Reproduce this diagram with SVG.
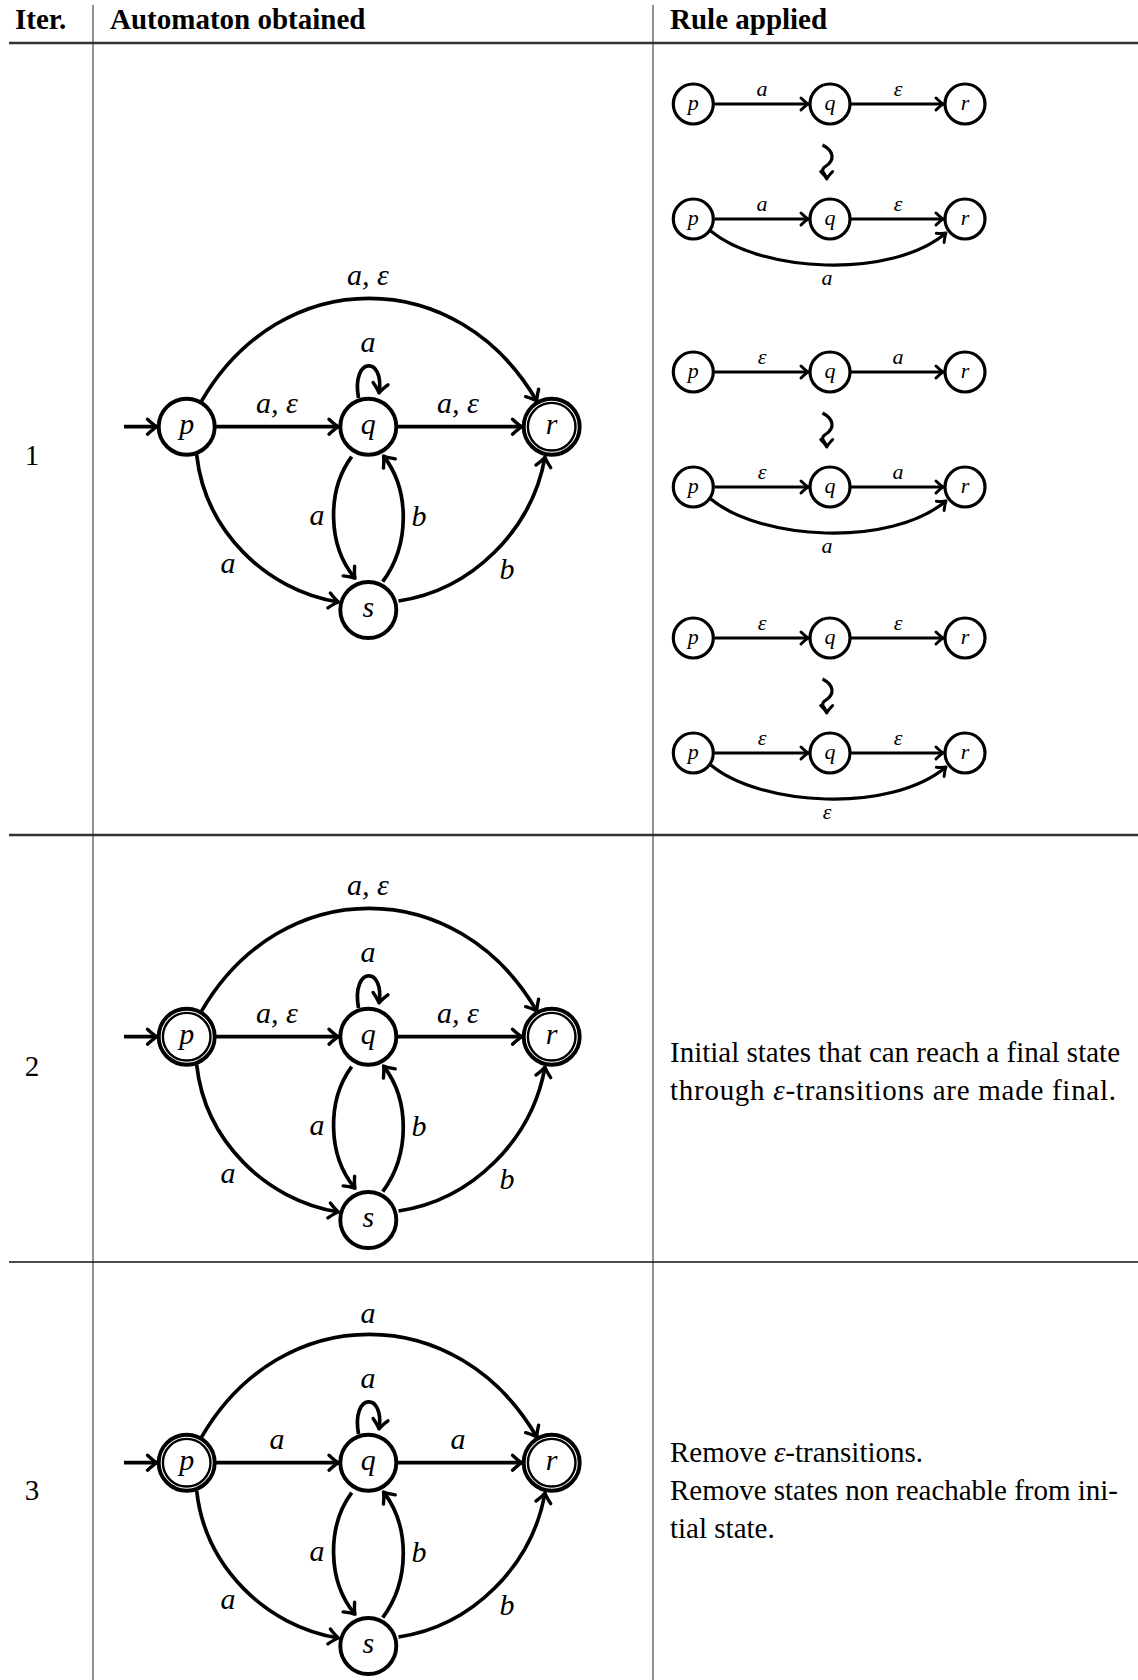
<svg xmlns="http://www.w3.org/2000/svg" width="1138" height="1680" viewBox="0 0 1138 1680">
<defs>
<marker id="arr" markerUnits="userSpaceOnUse" viewBox="-14 -11 18 22" markerWidth="18" markerHeight="22" refX="0" refY="0" orient="auto" overflow="visible">
<path d="M -9.5 -7.5 Q -3.5 -1.8 0 0 Q -3.5 1.8 -9.5 7.5" fill="none" stroke="#000" stroke-width="3.4" stroke-linecap="round" stroke-linejoin="round"/>
</marker>
<marker id="arrs" markerUnits="userSpaceOnUse" viewBox="-12 -10 16 20" markerWidth="16" markerHeight="20" refX="0" refY="0" orient="auto" overflow="visible">
<path d="M -7.5 -6 Q -2.7 -1.4 0 0 Q -2.7 1.4 -7.5 6" fill="none" stroke="#000" stroke-width="3" stroke-linecap="round" stroke-linejoin="round"/>
</marker>
</defs>
<style>
.st{fill:#fff;stroke:#000;stroke-width:3.9}
.in{fill:none;stroke:#000;stroke-width:2.4}
.sm{fill:#fff;stroke:#000;stroke-width:3.2}
.e{fill:none;stroke:#000;stroke-width:3.7;marker-end:url(#arr)}
.es{fill:none;stroke:#000;stroke-width:3.2;marker-end:url(#arrs)}
.nl{font-family:"Liberation Serif",serif;font-style:italic;font-size:30px;text-anchor:middle}
.ns{font-family:"Liberation Serif",serif;font-style:italic;font-size:22px;text-anchor:middle}
.body{font-family:"Liberation Serif",serif;font-size:29px}
.hd{font-family:"Liberation Serif",serif;font-size:29px;font-weight:bold}
.num{font-family:"Liberation Serif",serif;font-size:29px;text-anchor:middle}
.it{font-style:italic}
.vr{stroke:#555;stroke-width:1.3}
.thick{stroke:#333;stroke-width:2.6}
.thin{stroke:#111;stroke-width:1.4}
</style>

<g id="table">
<line class="vr" x1="93" y1="5" x2="93" y2="1680"/>
<line class="vr" x1="653" y1="5" x2="653" y2="1680"/>
<line class="thick" x1="9" y1="43" x2="1138" y2="43"/>
<line class="thick" x1="9" y1="835" x2="1138" y2="835"/>
<line class="thin" x1="9" y1="1262" x2="1138" y2="1262"/>
<text class="hd" x="15" y="29">Iter.</text>
<text class="hd" x="110" y="29">Automaton obtained</text>
<text class="hd" x="670" y="29">Rule applied</text>
<text class="num" x="32" y="465">1</text>
<text class="num" x="32" y="1076">2</text>
<text class="num" x="32" y="1500">3</text>
</g>

<!-- Row 1 automaton -->
<g id="row1">
<g id="r1-edges">
<path class="e" d="M 124 426.7 L 157 426.7"/>
<path class="e" d="M 216 426.7 L 338.5 426.7"/>
<path class="e" d="M 397.6 426.7 L 522 426.7"/>
<path class="e" d="M 201.5 401.2 C 280.7 264 457.7 264 536.9 401.2"/>
<path class="e" d="M 358.5 398 C 351 356 385 356 379 393"/>
<path class="e" d="M 351.7 456.7 C 327 490 327 545 355 578.3"/>
<path class="e" d="M 382.7 581.7 C 410 545 410 490 383.5 456"/>
<path class="e" d="M 196.7 455 C 205 530 265 590 338.5 602"/>
<path class="e" d="M 398.5 601 C 472 590 532 530 545 457"/>
<text class="nl" x="368" y="285">a, ε</text>
<text class="nl" x="368" y="352">a</text>
<text class="nl" x="277" y="413">a, ε</text>
<text class="nl" x="458" y="413">a, ε</text>
<text class="nl" x="317" y="525">a</text>
<text class="nl" x="419" y="526">b</text>
<text class="nl" x="228" y="573">a</text>
<text class="nl" x="507" y="579">b</text>
</g>
<g id="r1-p"><circle class="st" cx="186.7" cy="426.7" r="28"/><text class="nl" x="186.7" y="434">p</text></g>
<g id="r1-q"><circle class="st" cx="368.3" cy="426.7" r="28"/><text class="nl" x="368.3" y="434">q</text></g>
<g id="r1-r"><circle class="st" cx="551.7" cy="426.7" r="28"/><circle class="in" cx="551.7" cy="426.7" r="23.8"/><text class="nl" x="551.7" y="434">r</text></g>
<g id="r1-s"><circle class="st" cx="368.3" cy="610" r="28"/><text class="nl" x="368.3" y="617">s</text></g>
</g>

<!-- Row 2 automaton -->
<g id="row2" transform="translate(0,610)">
<g id="r2-edges">
<path class="e" d="M 124 426.7 L 157 426.7"/>
<path class="e" d="M 216 426.7 L 338.5 426.7"/>
<path class="e" d="M 397.6 426.7 L 522 426.7"/>
<path class="e" d="M 201.5 401.2 C 280.7 264 457.7 264 536.9 401.2"/>
<path class="e" d="M 358.5 398 C 351 356 385 356 379 393"/>
<path class="e" d="M 351.7 456.7 C 327 490 327 545 355 578.3"/>
<path class="e" d="M 382.7 581.7 C 410 545 410 490 383.5 456"/>
<path class="e" d="M 196.7 455 C 205 530 265 590 338.5 602"/>
<path class="e" d="M 398.5 601 C 472 590 532 530 545 457"/>
<text class="nl" x="368" y="285">a, ε</text>
<text class="nl" x="368" y="352">a</text>
<text class="nl" x="277" y="413">a, ε</text>
<text class="nl" x="458" y="413">a, ε</text>
<text class="nl" x="317" y="525">a</text>
<text class="nl" x="419" y="526">b</text>
<text class="nl" x="228" y="573">a</text>
<text class="nl" x="507" y="579">b</text>
</g>
<g id="r2-p"><circle class="st" cx="186.7" cy="426.7" r="28"/><circle class="in" cx="186.7" cy="426.7" r="23.8"/><text class="nl" x="186.7" y="434">p</text></g>
<g id="r2-q"><circle class="st" cx="368.3" cy="426.7" r="28"/><text class="nl" x="368.3" y="434">q</text></g>
<g id="r2-r"><circle class="st" cx="551.7" cy="426.7" r="28"/><circle class="in" cx="551.7" cy="426.7" r="23.8"/><text class="nl" x="551.7" y="434">r</text></g>
<g id="r2-s"><circle class="st" cx="368.3" cy="610" r="28"/><text class="nl" x="368.3" y="617">s</text></g>
</g>

<!-- Row 3 automaton -->
<g id="row3" transform="translate(0,1036)">
<g id="r3-edges">
<path class="e" d="M 124 426.7 L 157 426.7"/>
<path class="e" d="M 216 426.7 L 338.5 426.7"/>
<path class="e" d="M 397.6 426.7 L 522 426.7"/>
<path class="e" d="M 201.5 401.2 C 280.7 264 457.7 264 536.9 401.2"/>
<path class="e" d="M 358.5 398 C 351 356 385 356 379 393"/>
<path class="e" d="M 351.7 456.7 C 327 490 327 545 355 578.3"/>
<path class="e" d="M 382.7 581.7 C 410 545 410 490 383.5 456"/>
<path class="e" d="M 196.7 455 C 205 530 265 590 338.5 602"/>
<path class="e" d="M 398.5 601 C 472 590 532 530 545 457"/>
<text class="nl" x="368" y="287">a</text>
<text class="nl" x="368" y="352">a</text>
<text class="nl" x="277" y="413">a</text>
<text class="nl" x="458" y="413">a</text>
<text class="nl" x="317" y="525">a</text>
<text class="nl" x="419" y="526">b</text>
<text class="nl" x="228" y="573">a</text>
<text class="nl" x="507" y="579">b</text>
</g>
<g id="r3-p"><circle class="st" cx="186.7" cy="426.7" r="28"/><circle class="in" cx="186.7" cy="426.7" r="23.8"/><text class="nl" x="186.7" y="434">p</text></g>
<g id="r3-q"><circle class="st" cx="368.3" cy="426.7" r="28"/><text class="nl" x="368.3" y="434">q</text></g>
<g id="r3-r"><circle class="st" cx="551.7" cy="426.7" r="28"/><circle class="in" cx="551.7" cy="426.7" r="23.8"/><text class="nl" x="551.7" y="434">r</text></g>
<g id="r3-s"><circle class="st" cx="368.3" cy="610" r="28"/><text class="nl" x="368.3" y="617">s</text></g>
</g>

<!-- Rule 1: a then eps -->
<g id="rule1" transform="translate(0,104)">
<g id="rule1-edges">
<path class="es" d="M 714.5 0 L 808.5 0"/>
<path class="es" d="M 851 0 L 943.5 0"/>
<path class="es" d="M 822.5 41 C 834 47 835 56 826 62 C 818 67 826.7 70 826.7 75"/>
<path class="es" d="M 714.5 115 L 808.5 115"/>
<path class="es" d="M 851 115 L 943.5 115"/>
<path class="es" d="M 710.8 127 C 760 168 890 176 946 129"/>
<text class="ns" x="762" y="-8">a</text>
<text class="ns" x="898" y="-8">ε</text>
<text class="ns" x="762" y="107">a</text>
<text class="ns" x="898" y="107">ε</text>
<text class="ns" x="827" y="181">a</text>
</g>
<g id="rule1-p1"><circle class="sm" cx="693.3" cy="0" r="20"/><text class="ns" x="693.3" y="5.5">p</text></g>
<g id="rule1-q1"><circle class="sm" cx="830" cy="0" r="20"/><text class="ns" x="830" y="5.5">q</text></g>
<g id="rule1-r1"><circle class="sm" cx="965" cy="0" r="20"/><text class="ns" x="965" y="5.5">r</text></g>
<g id="rule1-p2"><circle class="sm" cx="693.3" cy="115" r="20"/><text class="ns" x="693.3" y="120.5">p</text></g>
<g id="rule1-q2"><circle class="sm" cx="830" cy="115" r="20"/><text class="ns" x="830" y="120.5">q</text></g>
<g id="rule1-r2"><circle class="sm" cx="965" cy="115" r="20"/><text class="ns" x="965" y="120.5">r</text></g>
</g>

<!-- Rule 2: eps then a -->
<g id="rule2" transform="translate(0,372)">
<g id="rule2-edges">
<path class="es" d="M 714.5 0 L 808.5 0"/>
<path class="es" d="M 851 0 L 943.5 0"/>
<path class="es" d="M 822.5 41 C 834 47 835 56 826 62 C 818 67 826.7 70 826.7 75"/>
<path class="es" d="M 714.5 115 L 808.5 115"/>
<path class="es" d="M 851 115 L 943.5 115"/>
<path class="es" d="M 710.8 127 C 760 168 890 176 946 129"/>
<text class="ns" x="762" y="-8">ε</text>
<text class="ns" x="898" y="-8">a</text>
<text class="ns" x="762" y="107">ε</text>
<text class="ns" x="898" y="107">a</text>
<text class="ns" x="827" y="181">a</text>
</g>
<g id="rule2-p1"><circle class="sm" cx="693.3" cy="0" r="20"/><text class="ns" x="693.3" y="5.5">p</text></g>
<g id="rule2-q1"><circle class="sm" cx="830" cy="0" r="20"/><text class="ns" x="830" y="5.5">q</text></g>
<g id="rule2-r1"><circle class="sm" cx="965" cy="0" r="20"/><text class="ns" x="965" y="5.5">r</text></g>
<g id="rule2-p2"><circle class="sm" cx="693.3" cy="115" r="20"/><text class="ns" x="693.3" y="120.5">p</text></g>
<g id="rule2-q2"><circle class="sm" cx="830" cy="115" r="20"/><text class="ns" x="830" y="120.5">q</text></g>
<g id="rule2-r2"><circle class="sm" cx="965" cy="115" r="20"/><text class="ns" x="965" y="120.5">r</text></g>
</g>

<!-- Rule 3: eps then eps -->
<g id="rule3" transform="translate(0,638)">
<g id="rule3-edges">
<path class="es" d="M 714.5 0 L 808.5 0"/>
<path class="es" d="M 851 0 L 943.5 0"/>
<path class="es" d="M 822.5 41 C 834 47 835 56 826 62 C 818 67 826.7 70 826.7 75"/>
<path class="es" d="M 714.5 115 L 808.5 115"/>
<path class="es" d="M 851 115 L 943.5 115"/>
<path class="es" d="M 710.8 127 C 760 168 890 176 946 129"/>
<text class="ns" x="762" y="-8">ε</text>
<text class="ns" x="898" y="-8">ε</text>
<text class="ns" x="762" y="107">ε</text>
<text class="ns" x="898" y="107">ε</text>
<text class="ns" x="827" y="181">ε</text>
</g>
<g id="rule3-p1"><circle class="sm" cx="693.3" cy="0" r="20"/><text class="ns" x="693.3" y="5.5">p</text></g>
<g id="rule3-q1"><circle class="sm" cx="830" cy="0" r="20"/><text class="ns" x="830" y="5.5">q</text></g>
<g id="rule3-r1"><circle class="sm" cx="965" cy="0" r="20"/><text class="ns" x="965" y="5.5">r</text></g>
<g id="rule3-p2"><circle class="sm" cx="693.3" cy="115" r="20"/><text class="ns" x="693.3" y="120.5">p</text></g>
<g id="rule3-q2"><circle class="sm" cx="830" cy="115" r="20"/><text class="ns" x="830" y="120.5">q</text></g>
<g id="rule3-r2"><circle class="sm" cx="965" cy="115" r="20"/><text class="ns" x="965" y="120.5">r</text></g>
</g>

<g id="rule-texts">
<text class="body" x="670" y="1062" textLength="450" lengthAdjust="spacing">Initial states that can reach a final state</text>
<text class="body" x="670" y="1100" textLength="446" lengthAdjust="spacing">through <tspan class="it">ε</tspan>-transitions are made final.</text>
<text class="body" x="670" y="1462">Remove <tspan class="it">ε</tspan>-transitions.</text>
<text class="body" x="670" y="1500" textLength="448" lengthAdjust="spacing">Remove states non reachable from ini-</text>
<text class="body" x="670" y="1538">tial state.</text>
</g>
</svg>
